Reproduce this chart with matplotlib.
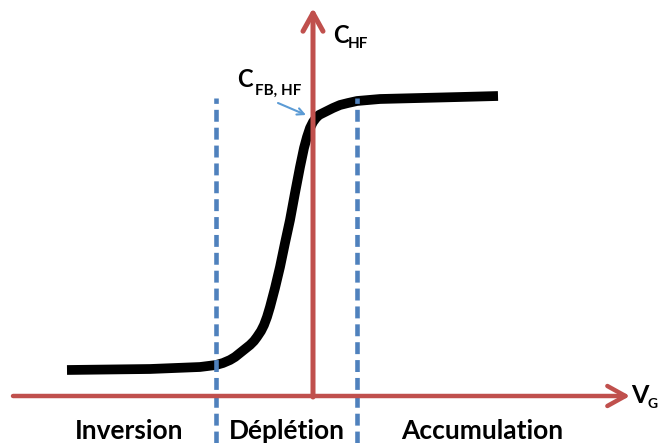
import matplotlib
matplotlib.use('Agg')
import matplotlib.pyplot as plt

plt.rcParams['font.family'] = ['Lato', 'DejaVu Sans']

# high-frequency C-V curve (V_G relative to flat band, C in arbitrary units)
v_g = [-246, -163, -113, -97, -90, -83, -78, -73, -68, -63, -59, -56, -52, -49,
       -46, -43, -38, -33, -28, -23, -18, -13, -9, -6, -3, 0, 3, 6, 10, 14,
       20, 27, 35, 44, 67, 107, 147, 185]
c_hf = [26, 27, 29, 31, 33, 36, 39, 43, 47, 51, 55, 59, 65, 71,
        79, 89, 108, 129, 153, 176, 203, 229, 248, 259, 268, 274, 278, 281, 283, 285,
        288, 291, 293, 295, 297, 298, 299, 300]

# region boundaries
v_bounds = [-97, 44]
regions = ['Inversion', 'Déplétion', 'Accumulation']
region_x = [-184, -26, 169]

red = '#c0504d'
blue = '#4f81bd'

fig = plt.figure(figsize=(6.63, 4.43), dpi=100)
ax = fig.add_axes([0, 0, 1, 1])
ax.set_xlim(-313, 350)
ax.set_ylim(-47, 396)
ax.axis('off')

ax.plot(v_g, c_hf, color='black', lw=7, solid_capstyle='butt',
        solid_joinstyle='round', zorder=2)

for vb in v_bounds:
    ax.plot([vb, vb], [-47, 298], color=blue, lw=3.3, dashes=(2.6, 1.3), zorder=3)

# axes arrows
ax.annotate('', xy=(317, 0), xytext=(-300, 0),
            arrowprops=dict(arrowstyle='->,head_length=0.65,head_width=0.36',
                            lw=3.2, color=red, mutation_scale=20,
                            shrinkA=0, shrinkB=0), zorder=4)
ax.annotate('', xy=(0, 388), xytext=(0, -1),
            arrowprops=dict(arrowstyle='->,head_length=0.65,head_width=0.36',
                            lw=3.6, color=red, mutation_scale=20,
                            shrinkA=0, shrinkB=0), zorder=4)

# labels
ax.text(20, 353, 'C', fontsize=17, fontweight='bold', va='baseline')
ax.text(35, 348, 'HF', fontsize=11, fontweight='bold', va='baseline')
ax.text(-76, 309, 'C', fontsize=17, fontweight='bold', va='baseline')
ax.text(-58, 301, 'FB, HF', fontsize=11, fontweight='bold', va='baseline')
ax.text(318, -7, 'V', fontsize=18, fontweight='bold', va='baseline')
ax.text(335, -12, 'G', fontsize=10, fontweight='bold', va='baseline')

ax.annotate('', xy=(-7, 281), xytext=(-35, 293),
            arrowprops=dict(arrowstyle='->', lw=1.5, color='#5b9bd5',
                            mutation_scale=12, shrinkA=0, shrinkB=0))

for name, x in zip(regions, region_x):
    ax.text(x, -43, name, fontsize=19, fontweight='bold', ha='center',
            va='baseline')

fig.savefig('out.png', dpi=100)
